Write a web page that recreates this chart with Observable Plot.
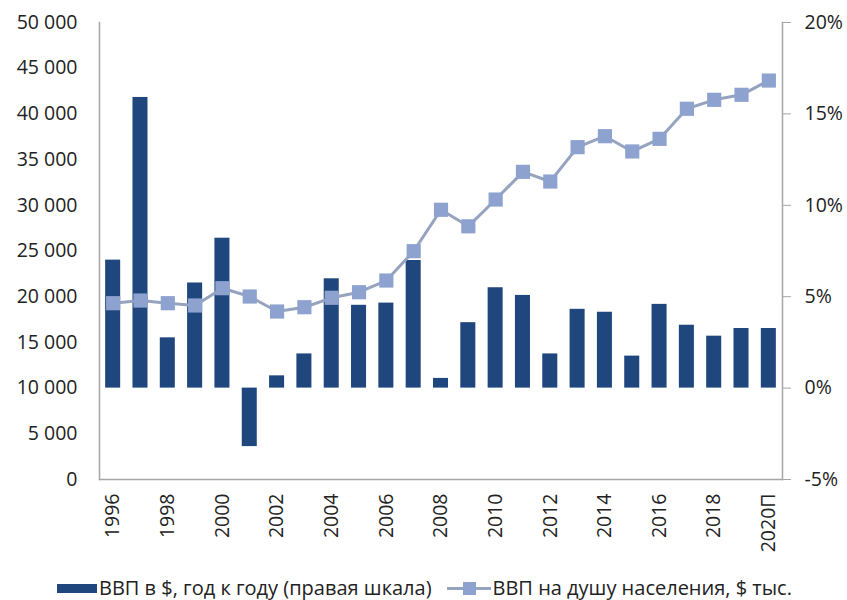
<!DOCTYPE html>
<html>
<head>
<meta charset="utf-8">
<script src="https://cdn.jsdelivr.net/npm/d3@7"></script>
<script src="https://cdn.jsdelivr.net/npm/@observablehq/plot@0.6"></script>
<style>
  html, body { margin: 0; padding: 0; background: #fff; }
  body { width: 847px; height: 600px; overflow: hidden; font-family: "Open Sans", sans-serif; }
  #chart svg { display: block; }
  #legend { display: flex; align-items: center; font-size: 20px; line-height: 28px; color: #222; white-space: nowrap; padding-left: 57px; }
  .sw-bar { display: inline-block; width: 40px; height: 9px; background: #1f477e; margin-right: 2px; }
  .sw-line { position: relative; display: inline-block; width: 44px; height: 13px; margin: 0 2px 0 15px; }
  .sw-line::before { content: ""; position: absolute; left: 0; right: 0; top: 5px; height: 3px; background: #96a3bf; }
  .sw-line::after { content: ""; position: absolute; left: 16px; top: 0; width: 13px; height: 13px; background: #8ea2cf; }
</style>
</head>
<body>
<div id="chart"></div>
<div id="legend">
  <span class="sw-bar"></span><span>ВВП в $, год к году (правая шкала)</span>
  <span class="sw-line"></span><span>ВВП на душу населения, $ тыс.</span>
</div>
<script>
const years = ["1996","1997","1998","1999","2000","2001","2002","2003","2004","2005","2006","2007","2008","2009","2010","2011","2012","2013","2014","2015","2016","2017","2018","2019","2020П"];
// ВВП в $, год к году, % (правая шкала)
const growth = [7.0, 15.9, 2.75, 5.75, 8.2, -3.2, 0.67, 1.87, 5.98, 4.53, 4.65, 6.98, 0.53, 3.58, 5.49, 5.07, 1.87, 4.31, 4.15, 1.75, 4.58, 3.44, 2.84, 3.26, 3.26];
// ВВП на душу населения (левая шкала)
const perCapita = [19290, 19580, 19290, 19040, 20930, 20020, 18380, 18850, 19880, 20490, 21770, 24980, 29510, 27700, 30630, 33660, 32600, 36360, 37560, 35890, 37270, 40560, 41540, 42090, 43650];
const leftTicks = [0, 5000, 10000, 15000, 20000, 25000, 30000, 35000, 40000, 45000, 50000];
const rightTicks = [-5, 0, 5, 10, 15, 20];
const xLabels = ["1996","1998","2000","2002","2004","2006","2008","2010","2012","2014","2016","2018","2020П"];

// map right-axis percent onto left-axis units: 0% ↔ 10 000, 5% ↔ 10 000 units
const pctToLeft = p => 10000 + p * 2000;

const rows = years.map((year, i) => ({year, growth: growth[i], perCapita: perCapita[i], base: pctToLeft(0), top: pctToLeft(growth[i])}));

const fmtLeft = d => d3.format(",")(d).replace(/,/g, " ");
const axisColor = "#a6a6a6";

const chart = Plot.plot({
  width: 847,
  height: 574,
  marginTop: 22,
  marginBottom: 95,
  marginLeft: 99,
  marginRight: 65,
  style: {fontFamily: "Open Sans, sans-serif", fontSize: "19.5px", color: "#222", background: "#fff"},
  x: {type: "band", domain: years, paddingInner: 0.45, paddingOuter: 0.225, round: false, label: null},
  y: {domain: [0, 50000], label: null},
  marks: [
    Plot.frame({anchor: "left", stroke: axisColor, strokeWidth: 1.5}),
    Plot.frame({anchor: "right", stroke: axisColor, strokeWidth: 1.5}),
    Plot.frame({anchor: "bottom", stroke: axisColor, strokeWidth: 1.5}),
    Plot.axisY(leftTicks, {anchor: "left", tickSize: 0, tickPadding: 22, tickFormat: fmtLeft, label: null}),
    Plot.axisY(rightTicks.map(pctToLeft), {anchor: "right", tickSize: 8, tickPadding: 14, stroke: axisColor, tickFormat: (d, i) => rightTicks[i] + "%", label: null}),
    Plot.axisX(xLabels, {anchor: "bottom", tickSize: 0, tickPadding: 14, tickRotate: -90, label: null}),
    Plot.rectY(rows, {x: "year", y1: "base", y2: "top", fill: "#1f477e"}),
    Plot.line(rows, {x: "year", y: "perCapita", stroke: "#96a3bf", strokeWidth: 3}),
    Plot.dot(rows, {x: "year", y: "perCapita", symbol: "square", r: 8, fill: "#8ea2cf", stroke: "none"})
  ]
});
document.getElementById("chart").appendChild(chart);
</script>
</body>
</html>
